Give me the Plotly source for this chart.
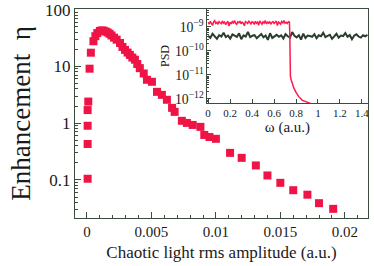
import numpy as np
import plotly.graph_objects as go

# ---- main chart data ----
amplitude = [0.00005, 0.00005, 0.00005, 0.00005, 0.0001, 0.0002, 0.0003, 0.0005, 0.00065,
             0.0008, 0.001, 0.00115, 0.0013, 0.00145, 0.0016, 0.00175, 0.0019, 0.0021,
             0.0023, 0.00256, 0.00275, 0.00295, 0.00315, 0.00333, 0.00352, 0.00372, 0.0039,
             0.0041, 0.0044, 0.00465, 0.00504, 0.00543, 0.00581, 0.0062, 0.0066, 0.0068,
             0.00736, 0.00775, 0.0082, 0.0088, 0.0091, 0.0095, 0.0100, 0.0111, 0.0120,
             0.0131, 0.0140, 0.0150, 0.0160, 0.0171, 0.0180, 0.0191]
enhancement = [0.105, 0.43, 0.9, 1.7, 2.4, 9.1, 17.4, 27.7, 34, 38.6, 42, 43, 42.4, 41,
               39.6, 37.5, 35, 32, 29.5, 25.8, 22, 19.5, 17.5, 15.9, 14.3, 13.1, 11,
               9.3, 7.5, 5.8, 5.35, 3.56, 3.15, 2.58, 1.86, 1.58,
               1.1, 1.01, 0.93, 0.86, 0.62, 0.57, 0.53, 0.30, 0.245,
               0.18, 0.12, 0.089, 0.066, 0.055, 0.039, 0.031]
x_ticks = [0, 0.005, 0.01, 0.015, 0.02]
y_ticks = [0.1, 1, 10, 100]
y_labels = ['0.1', '1', '10', '100']

# ---- inset data (PSD) ----
red_flat_e9 = [1.55, 1.32, 1.71, 1.48, 1.16, 1.62, 1.83, 1.41, 1.57, 1.29, 1.68, 1.50, 1.37, 1.79,
               1.44, 1.61, 1.25, 1.53, 1.72, 1.09, 1.58, 1.34, 1.66, 1.47, 1.86, 1.42, 1.30, 1.63,
               1.51, 1.75, 1.36, 1.59, 1.45, 1.12, 1.69, 1.54, 1.40, 1.81, 1.49, 1.33, 1.65, 1.56,
               1.28, 1.73, 1.43, 1.60, 1.18, 1.77, 1.52, 1.31, 1.64, 1.46, 1.88, 1.35, 1.58, 1.44,
               1.70, 1.29, 1.55, 1.67, 1.41, 1.53, 1.76, 1.14, 1.62, 1.48, 1.32, 1.71, 1.50, 1.84,
               1.43, 1.57, 1.39, 1.66, 1.60]
red_tail_w = [0.743, 0.746, 0.749, 0.755, 0.765, 0.78, 0.80, 0.825, 0.855, 0.89, 0.93]
red_tail_psd = [6e-10, 3e-11, 9e-12, 6.5e-12, 4.5e-12, 2.9e-12, 1.9e-12, 1.25e-12, 9e-13, 7.5e-13, 6.5e-13]
green_e10 = [4.3, 3.5, 5.2, 4.1, 3.2, 4.6, 4.0, 5.8, 3.8, 4.4, 3.3, 4.9, 4.2, 3.9, 5.4, 3.1, 4.5,
             4.0, 6.3, 3.8, 4.3, 4.6, 3.4, 4.1, 5.1, 3.7, 4.4, 2.9, 5.5, 3.5, 4.2, 4.7, 3.9,
             4.5, 3.3, 5.0, 4.1, 3.6, 6.1, 4.3, 3.7, 4.6, 3.0, 5.3, 3.5, 4.4, 4.2, 3.9, 5.0,
             3.4, 4.5, 4.1, 5.7, 3.8, 4.3, 4.7, 3.2, 4.0, 5.2, 3.6, 4.4, 4.2, 5.6, 3.9, 4.6,
             3.1, 4.3, 5.0, 4.0, 3.6, 4.5, 4.1, 4.7]
w_ticks = [0, 0.2, 0.4, 0.6, 0.8, 1.0, 1.2, 1.4]
w_labels = ['0', '0.2', '0.4', '0.6', '0.8', '1', '1.2', '1.4']

red_w = list(np.linspace(0, 0.74, len(red_flat_e9))) + red_tail_w
red_psd = [v * 1e-9 for v in red_flat_e9] + red_tail_psd
green_w = np.linspace(0, 1.45, len(green_e10))
green_psd = [v * 1e-10 for v in green_e10]

AX = '#3b4b3e'
SERIF = 'Liberation Serif'
RED = '#ee1446'

fig = go.Figure()
fig.add_trace(go.Scatter(x=amplitude, y=enhancement, mode='markers',
                         marker=dict(symbol='square', size=8, color=RED, line=dict(width=0)),
                         xaxis='x', yaxis='y', showlegend=False))
fig.add_trace(go.Scatter(x=green_w, y=green_psd, mode='lines',
                         line=dict(color='#2b3d30', width=2.0), xaxis='x2', yaxis='y2', showlegend=False))
fig.add_trace(go.Scatter(x=red_w, y=red_psd, mode='lines',
                         line=dict(color='#ff1a4e', width=1.5), xaxis='x2', yaxis='y2', showlegend=False))

fig.update_layout(
    width=374, height=266,
    margin=dict(l=75, r=6, t=9, b=48, autoexpand=False),
    paper_bgcolor='white', plot_bgcolor='white',
    font=dict(family=SERIF, color='#1a1a1a'),
    xaxis=dict(domain=[0, 1], range=[-0.00093, 0.0218], tickvals=x_ticks, automargin=False,
               ticks='inside', ticklen=6, tickcolor=AX, showline=True, linecolor=AX,
               linewidth=1.3, mirror=True, showgrid=False, zeroline=False,
               tickfont=dict(size=15, family=SERIF),
               minor=dict(dtick=0.001, ticks='inside', ticklen=3, tickcolor=AX, showgrid=False),
               title=dict(text='Chaotic light rms amplitude (a.u.)', font=dict(size=17, family=SERIF), standoff=6)),
    yaxis=dict(domain=[0, 1], type='log', range=[-1.67, 2.01], tickvals=y_ticks, ticktext=y_labels,
               automargin=False,
               ticks='inside', ticklen=6, tickcolor=AX, showline=True, linecolor=AX,
               linewidth=1.3, mirror=True, showgrid=False, zeroline=False,
               tickfont=dict(size=17, family=SERIF),
               minor=dict(dtick='D1', ticks='inside', ticklen=3, tickcolor=AX, showgrid=False),
               title=dict(text='Enhancement  η', font=dict(size=27, family=SERIF), standoff=6)),
    xaxis2=dict(domain=[0.4505, 1], anchor='y2', range=[-0.01, 1.455], tickvals=w_ticks, ticktext=w_labels,
                automargin=False,
                ticks='inside', ticklen=4, tickcolor=AX, showline=True, linecolor=AX,
                linewidth=1.2, mirror=True, showgrid=False, zeroline=False,
                tickfont=dict(size=11, family=SERIF),
                title=dict(text='ω (a.u.)', font=dict(size=15, family=SERIF), standoff=2)),
    yaxis2=dict(domain=[0.55, 1], anchor='x2', type='log', range=[-12.17, -8.25], dtick=1,
                exponentformat='power', showexponent='all', automargin=False,
                ticks='inside', ticklen=4, tickcolor=AX, showline=True, linecolor=AX,
                linewidth=1.2, mirror=True, showgrid=False, zeroline=False,
                tickfont=dict(size=11, family=SERIF),
                minor=dict(dtick='D1', ticks='inside', ticklen=2, tickcolor=AX, showgrid=False),
                title=dict(text='PSD', font=dict(size=12, family=SERIF), standoff=2)),
)

fig.write_html('out.html', config={'displayModeBar': False},
               post_script="document.body.style.margin='0px';document.body.style.overflow='hidden';")
